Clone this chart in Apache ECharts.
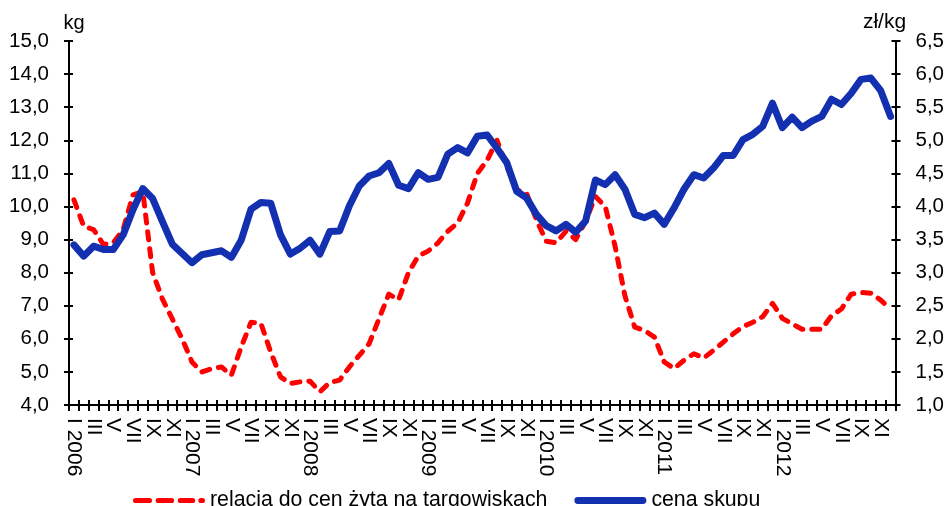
<!DOCTYPE html>
<html>
<head>
<meta charset="utf-8">
<script src="https://cdn.jsdelivr.net/npm/echarts@6/dist/echarts.min.js"></script>
<style>
html,body{margin:0;padding:0;background:#fff;}
#chart{width:947px;height:506px;}
</style>
</head>
<body>
<div id="chart"></div>
<script>
// ---- data ----
const years = [2006, 2007, 2008, 2009, 2010, 2011, 2012];
const months = ['I','II','III','IV','V','VI','VII','VIII','IX','X','XI','XII'];
const shownMonths = ['I','III','V','VII','IX','XI'];
const categories = [];
years.forEach(y => months.forEach(m => categories.push(m + ' ' + y)));

// relacja do cen żyta na targowiskach (kg, left axis)
const relacja = [
  10.2, 9.4, 9.3, 8.85, 8.9, 9.3, 10.35, 10.45, 8.0, 7.2, 6.6, 6.0,
  5.3, 5.0, 5.1, 5.15, 4.9, 5.75, 6.5, 6.47, 5.6, 4.85, 4.65, 4.7,
  4.72, 4.4, 4.68, 4.75, 5.15, 5.5, 5.85, 6.6, 7.35, 7.18, 8.0, 8.5,
  8.65, 8.9, 9.25, 9.5, 10.1, 11.0, 11.4, 12.0, 11.2, 10.5, 10.4, 9.6,
  8.95, 8.9, 9.25, 9.0, 9.55, 10.3, 10.0, 8.8, 7.3, 6.35, 6.25, 6.05,
  5.3, 5.1, 5.35, 5.55, 5.42, 5.65, 5.9, 6.15, 6.37, 6.5, 6.67, 7.07,
  6.62, 6.45, 6.29, 6.29, 6.29, 6.7, 6.9, 7.35, 7.4, 7.38, 7.17, 6.9
];
// cena skupu (zł/kg, right axis)
const cenaSkupu = [
  3.42, 3.25, 3.40, 3.35, 3.35, 3.57, 3.95, 4.27, 4.12, 3.77, 3.43, 3.29,
  3.15, 3.27, 3.30, 3.33, 3.23, 3.49, 3.96, 4.06, 4.05, 3.57, 3.28, 3.37,
  3.49, 3.28, 3.62, 3.63, 4.01, 4.31, 4.46, 4.51, 4.65, 4.32, 4.27, 4.51,
  4.41, 4.44, 4.79, 4.89, 4.81, 5.06, 5.08, 4.88, 4.66, 4.23, 4.13, 3.88,
  3.71, 3.63, 3.73, 3.61, 3.78, 4.40, 4.33, 4.48, 4.26, 3.88, 3.83, 3.90,
  3.73, 3.98, 4.26, 4.48, 4.43, 4.58, 4.77, 4.77, 5.01, 5.09, 5.21, 5.56,
  5.19, 5.35, 5.19, 5.29, 5.36, 5.62, 5.54, 5.71, 5.92, 5.94, 5.75, 5.36
];
const seriesNames = ['relacja do cen żyta na targowiskach', 'cena skupu'];
const unitLeft = 'kg';
const unitRight = 'zł/kg';

// ---- chart ----
const FONT = 'Liberation Sans, Arial, sans-serif';
const RED = '#ff0000';
const BLUE = '#1230b0';
const fmt = v => v.toFixed(1).replace('.', ',');
const axisLine = { show: true, lineStyle: { color: '#000', width: 2 } };
const tickStyle = { color: '#000', width: 2 };

// legend icons: rounded bars (path strings)
function pill(x, w, h) {
  const r = h / 2;
  return 'M' + (x + r) + ',0 H' + (x + w - r) + ' A' + r + ',' + r + ' 0 0 1 ' + (x + w - r) + ',' + h +
         ' H' + (x + r) + ' A' + r + ',' + r + ' 0 0 1 ' + (x + r) + ',0 Z';
}
const redIcon = 'path://' + [pill(0, 18.5, 5), pill(22, 18, 5), pill(43.5, 17, 5), pill(63.5, 6.5, 5)].join(' ');
const blueIcon = 'path://' + pill(0, 73, 7);

const chart = echarts.init(document.getElementById('chart'), null, { renderer: 'canvas' });
chart.setOption({
  animation: false,
  backgroundColor: '#fff',
  textStyle: { fontFamily: FONT, color: '#000' },
  grid: { left: 69, right: 51, top: 41, bottom: 101, containLabel: false },
  legend: {
    top: 485,
    left: 128,
    itemWidth: 72,
    itemHeight: 8,
    itemGap: 27,
    itemStyle: { borderWidth: 0 },
    textStyle: { fontFamily: FONT, fontSize: 21.3, color: '#000' },
    data: [
      { name: seriesNames[0], icon: redIcon, itemStyle: { color: RED, borderWidth: 0 } },
      { name: seriesNames[1], icon: blueIcon, itemStyle: { color: BLUE, borderWidth: 0 } }
    ]
  },
  xAxis: [
    {
      type: 'category',
      data: categories,
      boundaryGap: true,
      axisLine: axisLine,
      axisTick: { show: true, interval: 0, length: 6, lineStyle: tickStyle },
      axisLabel: {
        interval: 0,
        showMinLabel: true,
        showMaxLabel: true,
        hideOverlap: false,
        rotate: -90,
        margin: 13,
        fontSize: 21,
        fontFamily: FONT,
        color: '#000',
        padding: [6, 0, 0, 0],
        formatter: v => {
          const p = v.split(' ');
          if (shownMonths.indexOf(p[0]) < 0) return '';
          return p[0] === 'I' ? 'I ' + p[1] : p[0];
        }
      },
      splitLine: { show: false }
    },
    {
      type: 'category',
      data: categories,
      boundaryGap: true,
      position: 'bottom',
      axisLine: { show: false },
      axisTick: { show: true, inside: true, interval: 0, length: 5, lineStyle: tickStyle },
      axisLabel: { show: false },
      splitLine: { show: false }
    }
  ],
  yAxis: [
    {
      type: 'value', position: 'left', min: 4, max: 15, interval: 1,
      name: unitLeft, nameLocation: 'end', nameGap: 8,
      nameTextStyle: { fontSize: 20, fontFamily: FONT, color: '#000', padding: [0, 0, 0, 10] },
      axisLine: axisLine,
      axisTick: { show: true, length: 5, lineStyle: tickStyle },
      axisLabel: { margin: 20, fontSize: 20.5, fontFamily: FONT, color: '#000', formatter: fmt, hideOverlap: false, showMinLabel: true, showMaxLabel: true },
      splitLine: { show: false }
    },
    {
      type: 'value', position: 'right', min: 1, max: 6.5, interval: 0.5,
      name: unitRight, nameLocation: 'end', nameGap: 8,
      nameTextStyle: { fontSize: 21, fontFamily: FONT, color: '#000', padding: [0, 22, 0, 0] },
      axisLine: axisLine,
      axisTick: { show: true, length: 5, lineStyle: tickStyle },
      axisLabel: { margin: 20, fontSize: 20.5, fontFamily: FONT, color: '#000', formatter: fmt, hideOverlap: false, showMinLabel: true, showMaxLabel: true },
      splitLine: { show: false }
    },
    {
      type: 'value', position: 'left', min: 4, max: 15, interval: 1,
      axisLine: { show: false },
      axisTick: { show: true, inside: true, length: 4, lineStyle: tickStyle },
      axisLabel: { show: false },
      splitLine: { show: false }
    },
    {
      type: 'value', position: 'right', min: 1, max: 6.5, interval: 0.5,
      axisLine: { show: false },
      axisTick: { show: true, inside: true, length: 4, lineStyle: tickStyle },
      axisLabel: { show: false },
      splitLine: { show: false }
    }
  ],
  series: [
    {
      name: seriesNames[0],
      type: 'line',
      xAxisIndex: 0,
      yAxisIndex: 0,
      data: relacja,
      symbol: 'none',
      smooth: false,
      itemStyle: { color: RED },
      lineStyle: { color: RED, width: 5, type: [8, 9], cap: 'round', join: 'round' },
      z: 2
    },
    {
      name: seriesNames[1],
      type: 'line',
      xAxisIndex: 0,
      yAxisIndex: 1,
      data: cenaSkupu,
      symbol: 'none',
      smooth: false,
      itemStyle: { color: BLUE },
      lineStyle: { color: BLUE, width: 7, cap: 'round', join: 'round' },
      z: 3
    }
  ]
});
</script>
</body>
</html>
